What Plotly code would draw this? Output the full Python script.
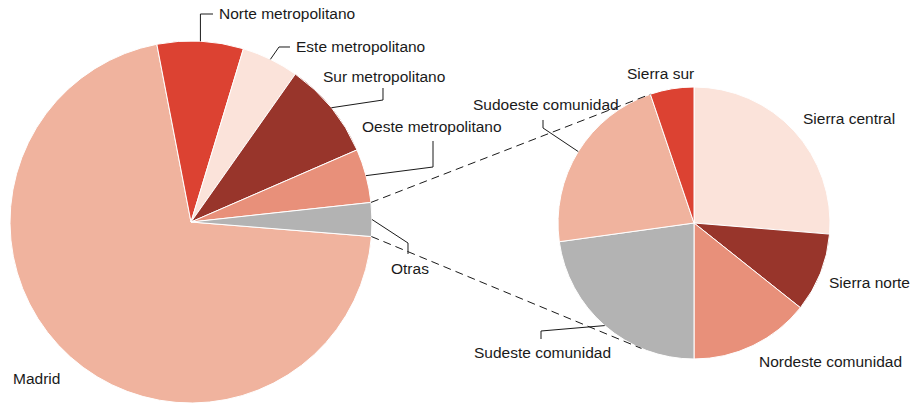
import math
import plotly.graph_objects as go

# ---------------- data ----------------
main_labels = ["Madrid", "Norte metropolitano", "Este metropolitano",
               "Sur metropolitano", "Oeste metropolitano", "Otras"]
main_values = [70.7, 7.7, 5.1, 8.7, 4.8, 3.0]

sub_labels = ["Sierra central", "Sierra norte", "Nordeste comunidad",
              "Sudeste comunidad", "Sudoeste comunidad", "Sierra sur"]
sub_values = [26.3, 9.4, 14.3, 22.8, 22.0, 5.2]

# ---------------- styles ----------------
main_colors = ["#F0B39E", "#DC4232", "#FBE3DA", "#98352B", "#E8907A", "#B3B3B3"]
sub_colors = ["#FBE3DA", "#98352B", "#E8907A", "#B3B3B3", "#F0B39E", "#DC4232"]

W, H = 912, 405
FONT = dict(family="Liberation Sans, Arial, sans-serif", size=15.5, color="#1a1a1a")
LEFT = dict(cx=191, cy=222, r=181, rotation=94.6)
RIGHT = dict(cx=694, cy=223, r=136, rotation=0)

# label text positions (left x, middle y in px) and leader elbows
LABEL_POS = {
    "Madrid": (12, 378),
    "Norte metropolitano": (218, 14),
    "Este metropolitano": (295, 46),
    "Sur metropolitano": (322, 76),
    "Oeste metropolitano": (361, 127),
    "Otras": (390, 268),
    "Sierra sur": (626, 74),
    "Sudoeste comunidad": (472, 104),
    "Sierra central": (802, 118),
    "Sierra norte": (828, 282),
    "Nordeste comunidad": (758, 361),
    "Sudeste comunidad": (473, 352),
}
LEADERS = {
    "Norte metropolitano": [(None, 14), (213, None)],
    "Este metropolitano": [(279, 47), (290, None)],
    "Sur metropolitano": [(383, 100), (None, 88)],
    "Oeste metropolitano": [(433, 167), (None, 141)],
    "Otras": [(408, 243), (None, 254)],
    "Sudoeste comunidad": [(543, 128), (None, 120)],
    "Sudeste comunidad": [(541, 331), (None, 339)],
}


def px(x):
    return x / W


def py(y):
    return 1 - y / H


def domain(p):
    return dict(x=[px(p["cx"] - p["r"]), px(p["cx"] + p["r"])],
                y=[py(p["cy"] + p["r"]), py(p["cy"] - p["r"])])


def slice_angles(values, rotation):
    """clockwise-from-12 start/stop angles of each slice (direction clockwise)"""
    total = sum(values)
    out, acc = [], 0.0
    for v in values:
        a0 = rotation + 360 * acc / total
        acc += v
        out.append((a0, rotation + 360 * acc / total))
    return out


def on_circle(p, ang):
    t = math.radians(ang)
    return p["cx"] + p["r"] * math.sin(t), p["cy"] - p["r"] * math.cos(t)


fig = go.Figure()
fig.add_trace(go.Pie(
    labels=main_labels, values=main_values, sort=False, direction="clockwise",
    rotation=LEFT["rotation"], domain=domain(LEFT), textinfo="none",
    marker=dict(colors=main_colors, line=dict(color="white", width=1)),
    showlegend=False, hoverinfo="label+percent"))
fig.add_trace(go.Pie(
    labels=sub_labels, values=sub_values, sort=False, direction="clockwise",
    rotation=RIGHT["rotation"], domain=domain(RIGHT), textinfo="none",
    marker=dict(colors=sub_colors, line=dict(color="white", width=1)),
    showlegend=False, hoverinfo="label+percent"))

shapes = []
annotations = []


def path_shape(pts, dash=None):
    d = "M " + " L ".join(f"{px(x):.6f},{py(y):.6f}" for x, y in pts)
    line = dict(color="#1a1a1a", width=1)
    if dash:
        line["dash"] = dash
    return dict(type="path", xref="paper", yref="paper", path=d, line=line, layer="above")


left_ang = dict(zip(main_labels, slice_angles(main_values, LEFT["rotation"])))
right_ang = dict(zip(sub_labels, slice_angles(sub_values, RIGHT["rotation"])))

for labels, angs, pie in ((main_labels, left_ang, LEFT), (sub_labels, right_ang, RIGHT)):
    for lab in labels:
        if lab in LEADERS:
            a0, a1 = angs[lab]
            start = on_circle(pie, (a0 + a1) / 2)
            pts = [start]
            for nx, ny in LEADERS[lab]:
                lx, ly = pts[-1]
                pts.append((lx if nx is None else nx, ly if ny is None else ny))
            shapes.append(path_shape(pts))
        tx, ty = LABEL_POS[lab]
        annotations.append(dict(x=px(tx), y=py(ty), xref="paper", yref="paper",
                                text=lab, showarrow=False, xanchor="left",
                                yanchor="middle", borderpad=0, font=FONT))

# dashed connectors from the "Otras" slice to the secondary pie
o0, o1 = left_ang["Otras"]
top_src = on_circle(LEFT, o0)   # upper edge of "Otras"
bot_src = on_circle(LEFT, o1)   # lower edge of "Otras"
ss0, _ = right_ang["Sierra sur"]
top_dst = on_circle(RIGHT, ss0)
bot_dst = on_circle(RIGHT, 180 - (ss0 - 360) + 4)
shapes.append(path_shape([top_src, top_dst], dash="8px,5px"))
shapes.append(path_shape([bot_src, bot_dst], dash="8px,5px"))

fig.update_layout(
    width=W, height=H, margin=dict(l=0, r=0, t=0, b=0),
    paper_bgcolor="white", plot_bgcolor="white",
    shapes=shapes, annotations=annotations, font=FONT,
)
fig.write_html("out.html")
